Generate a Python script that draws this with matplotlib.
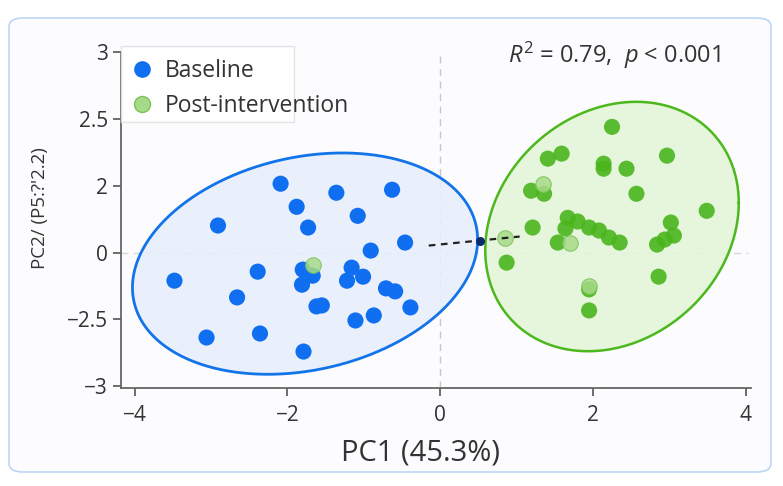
import numpy as np
import matplotlib.pyplot as plt
from matplotlib.patches import FancyBboxPatch, Rectangle
from matplotlib.lines import Line2D

plt.rcParams["font.family"] = ["Open Sans", "DejaVu Sans"]
plt.rcParams["mathtext.fontset"] = "custom"
plt.rcParams["mathtext.rm"] = "Open Sans"
plt.rcParams["mathtext.it"] = "Open Sans:italic"

# baseline scores (PC1, PC2 position)
base_x = [-2.09, -1.36, -0.63, -1.88, -1.08, -2.91, -1.73, -0.46, -0.91, -3.48,
          -2.39, -1.80, -1.67, -1.81, -1.16, -1.01, -1.22, -0.71, -0.59, -0.39,
          -2.66, -1.62, -1.55, -0.87, -1.11, -3.06, -2.36, -1.79]
base_y = [2.06, 1.79, 1.88, 1.37, 1.10, 0.81, 0.75, 0.30, 0.06, -0.84,
          -0.57, -0.51, -0.69, -0.96, -0.45, -0.72, -0.84, -1.07, -1.16, -1.64,
          -1.34, -1.61, -1.58, -1.88, -2.03, -2.54, -2.42, -2.96]

# post-intervention scores
post_x = [2.25, 1.41, 1.59, 2.97, 2.14, 2.14, 2.44, 1.19, 1.36, 2.57,
          3.49, 1.67, 1.80, 1.64, 1.95, 2.08, 2.21, 2.35, 1.54, 1.21,
          3.02, 3.06, 2.94, 2.84, 0.87, 2.86, 1.95, 1.95]
post_y = [3.76, 2.81, 2.96, 2.90, 2.66, 2.51, 2.51, 1.85, 1.76, 1.76,
          1.25, 1.04, 0.93, 0.72, 0.75, 0.66, 0.45, 0.30, 0.30, 0.75,
          0.90, 0.51, 0.39, 0.24, -0.30, -0.72, -1.10, -1.73]

# faded post-intervention points
faded_x = [1.34, 1.70, 0.85, -1.67, 1.95]
faded_y = [2.06, 0.30, 0.45, -0.36, -1.01]

# centroid shift
shift_x = [-0.15, 1.04]
shift_y = [0.21, 0.48]
mid_x, mid_y = 0.52, 0.36

# confidence ellipses: centre, spread, correlation
blue_ell = (-1.77, -0.33, 2.26, 3.31, 0.216)
green_ell = (2.25, 0.78, 1.66, 3.73, 0.19)

x_ticks = [-4, -2, 0, 2, 4]
x_tick_labels = ["\u22124", "\u22122", "0", "2", "4"]
y_ticks = [-4, -2, 0, 2, 4, 6]
y_tick_labels = ["\u22123", "\u22122.5", "0", "2", "2.5", "3"]

BLUE = "#0f6ff0"
GREEN = "#4ab51c"
LIGHT_GREEN = "#a6da88"


def ellipse_xy(cx, cy, sx, sy, rho, n=400):
    t = np.linspace(0, 2 * np.pi, n)
    x = cx + sx * np.cos(t)
    y = cy + sy * (rho * np.cos(t) + np.sqrt(1 - rho ** 2) * np.sin(t))
    return x, y


fig = plt.figure(figsize=(7.83, 4.86), dpi=100)
fig.patch.set_facecolor("white")
frame = FancyBboxPatch((9 / 783, 14 / 486), 762 / 783, 454 / 486,
                       boxstyle="round,pad=0,rounding_size=0.018",
                       transform=fig.transFigure, facecolor="#fcfbfd",
                       edgecolor="#bcd5f5", linewidth=1.2, zorder=-10)
fig.add_artist(frame)

ax = fig.add_axes([121 / 783, 98 / 486, 630 / 783, 336 / 486])
ax.set_facecolor("none")

ax.axvline(0, color="#c8c8c8", lw=1, ls=(0, (5, 4)), zorder=0)
ax.axhline(0, color="#d6d6d6", lw=1, ls=(0, (5, 4)), zorder=0, xmax=0.995)

ex, ey = ellipse_xy(*blue_ell)
ax.fill(ex, ey, color="#e7eefb", alpha=0.9, zorder=1)
ax.plot(ex, ey, color="#1274e8", lw=2.0, zorder=2)
gx, gy = ellipse_xy(*green_ell)
ax.fill(gx, gy, color="#e4f6da", alpha=0.9, zorder=1)
ax.plot(gx, gy, color="#4cb81e", lw=1.8, zorder=2)

ax.scatter(base_x, base_y, s=135, color=BLUE, edgecolor="none", zorder=3)
ax.scatter(post_x, post_y, s=135, color=GREEN, alpha=0.9, edgecolor="none", zorder=3)
ax.scatter(faded_x, faded_y, s=125, color=LIGHT_GREEN, alpha=0.85,
           edgecolor="#7cc25a", linewidth=0.8, zorder=4)

ax.plot(shift_x, shift_y, color="#222222", lw=1.6, ls=(0, (3, 2.5)), zorder=5)
ax.scatter([mid_x], [mid_y], s=30, color="#0b2a6e", zorder=6)

ax.set_xlim(-4.18, 4.07)
ax.set_ylim(-4.05, 6.0)
ax.set_xticks(x_ticks)
ax.set_xticklabels(x_tick_labels)
ax.set_yticks(y_ticks)
ax.set_yticklabels(y_tick_labels)
ax.tick_params(axis="both", labelsize=15, colors="#555555", labelcolor="#333333",
               length=6, width=1.2, direction="out")
ax.tick_params(axis="x", pad=6)
for side in ["top", "right"]:
    ax.spines[side].set_visible(False)
for side in ["left", "bottom"]:
    ax.spines[side].set_color("#666666")
    ax.spines[side].set_linewidth(1.3)

ax.set_xlabel("PC1 (45.3%)", fontsize=21, color="#333333")
ax.xaxis.set_label_coords(0.476, -0.15)
ax.set_ylabel("PC2/ (P5:?'2.2)", fontsize=13.5, color="#333333")
ax.yaxis.set_label_coords(-0.115, 0.536)

ax.text(0.783, 1.0 - 3 / 336, r"$R^2$ = 0.79,  $p$ < 0.001", transform=ax.transAxes,
        ha="center", va="center", fontsize=17, color="#333333")

# legend box (narrower than the text, as in the source figure)
ax.add_patch(Rectangle((0.0, 0.792), 0.275, 0.226, transform=ax.transAxes,
                       facecolor="white", edgecolor="#e0e0e0", lw=1.0,
                       alpha=0.85, zorder=7, clip_on=False))
handles = [
    Line2D([], [], marker="o", ls="none", markersize=12, color=BLUE, markeredgecolor="none"),
    Line2D([], [], marker="o", ls="none", markersize=11.5, color=LIGHT_GREEN,
           markeredgecolor="#7cc25a"),
]
leg = ax.legend(handles, ["Baseline", "Post-intervention"], loc="upper left",
                bbox_to_anchor=(0.005, 1.0), fontsize=16.5, frameon=False,
                handletextpad=0.45, labelspacing=0.5,
                borderpad=0.3, handlelength=1.0, borderaxespad=0)
leg.set_zorder(8)
for t in leg.get_texts():
    t.set_color("#333333")

fig.savefig("out.png", dpi=100, facecolor="white")
